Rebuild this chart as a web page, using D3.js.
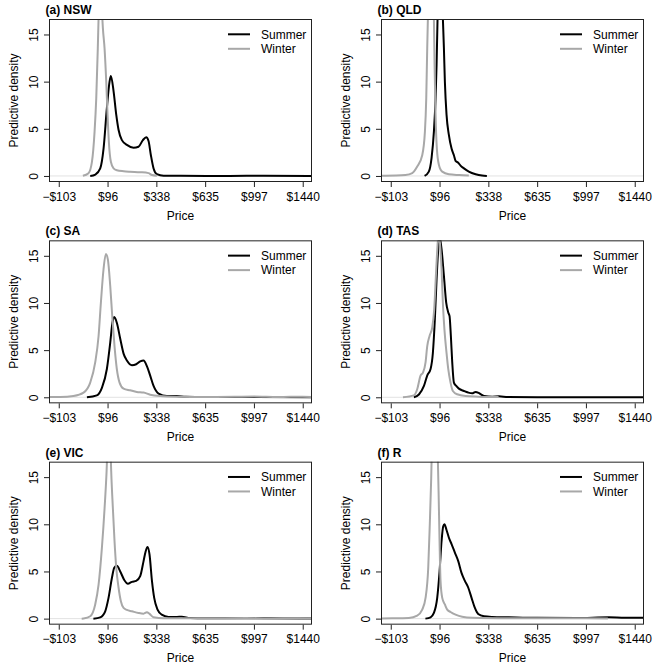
<!DOCTYPE html>
<html>
<head>
<meta charset="utf-8">
<script src="https://cdn.jsdelivr.net/npm/d3@7"></script>
<style>
  html, body { margin: 0; padding: 0; background: #fff; }
  svg { display: block; font-family: "Liberation Sans", Arial, Helvetica, sans-serif; }
</style>
</head>
<body>
<svg id="chart" width="664" height="664"></svg>
<script>
// ---- Data (x in transformed price-axis units: tick index 0..5) ----
const panelTitles = ["(a) NSW", "(b) QLD", "(c) SA", "(d) TAS", "(e) VIC", "(f) R"];
const xTickPos = [0, 1, 2, 3, 4, 5];
const xTickLabels = ["\u2212$103", "$96", "$338", "$635", "$997", "$1440"];
const yTicks = [0, 5, 10, 15];
const seriesNames = ["Summer", "Winter"];

const nswSummer = [[0.645,0],[0.75,0.15],[0.85,0.8],[0.918,2.9],[0.986,7.2],[1.041,10.0],[1.068,10.6],[1.123,9.0],[1.178,6.5],[1.225,4.9],[1.294,3.8],[1.396,3.3],[1.533,3.0],[1.635,3.1],[1.724,3.8],[1.792,4.1],[1.84,3.7],[1.888,2.2],[1.943,0.8],[2.011,0.2],[2.148,0.03],[2.5,0.01],[3.5,0],[4.2,0.02],[5.19,0]];
const nswWinter = [[0.494,0.03],[0.61,0.3],[0.68,1.5],[0.734,4.7],[0.768,8.2],[0.80,13.5],[0.82,17.5],[0.855,21],[0.89,17],[0.904,15.7],[0.939,13.5],[0.973,10],[1.0,6.5],[1.027,3.6],[1.068,1.5],[1.123,0.8],[1.19,0.6],[1.33,0.5],[1.46,0.45],[1.67,0.4],[1.84,0.3],[1.91,0.1],[2.01,0.03]];

const qldSummer = [[0.693,0],[0.78,0.46],[0.836,1.9],[0.884,4.7],[0.918,8.2],[0.939,11.8],[0.959,16.7],[0.985,22],[1.01,24],[1.04,21],[1.068,16.7],[1.089,13.6],[1.109,10],[1.143,6.5],[1.191,4.35],[1.246,2.9],[1.294,2.2],[1.328,1.6],[1.383,1.4],[1.43,1.1],[1.5,0.8],[1.6,0.46],[1.74,0.18],[1.87,0.04],[1.97,0]];
const qldWinter = [[-0.2,0.03],[0.1,0.05],[0.3,0.1],[0.44,0.3],[0.542,1.0],[0.645,2.2],[0.70,4.7],[0.727,8.2],[0.747,13.5],[0.761,16.7],[0.79,21],[0.82,23],[0.855,21],[0.884,16.7],[0.898,11.8],[0.918,6.5],[0.945,2.9],[0.986,1.2],[1.055,0.46],[1.19,0.18],[1.4,0.1],[1.6,0.05]];

const saSummer = [[0.577,0],[0.78,0.2],[0.884,1.0],[0.986,3.0],[1.055,5.8],[1.1,7.9],[1.137,8.5],[1.19,7.9],[1.26,6.2],[1.33,4.6],[1.396,3.9],[1.5,3.4],[1.587,3.5],[1.669,3.8],[1.738,3.9],[1.806,3.3],[1.874,2.3],[1.943,1.2],[2.045,0.4],[2.216,0.14],[2.42,0.14],[2.6,0.05],[3.0,0.02],[4.0,0.03],[5.19,0.01]];
const saWinter = [[-0.2,0.02],[0.03,0.03],[0.30,0.14],[0.508,0.5],[0.645,1.56],[0.747,3.7],[0.816,6.5],[0.863,10.0],[0.918,13.6],[0.966,15.2],[1.007,14.6],[1.055,11.8],[1.1,8.3],[1.143,5.4],[1.19,3.0],[1.246,1.56],[1.328,0.92],[1.464,0.74],[1.6,0.57],[1.738,0.5],[1.874,0.28],[2.08,0.14],[2.42,0.07],[3.0,0.04],[3.6,0.06],[4.0,0.08],[4.5,0.03],[5.0,0.07],[5.19,0.03]];

const tasSummer = [[0.474,0],[0.577,0.3],[0.68,1.2],[0.747,2.3],[0.816,3.0],[0.863,4.7],[0.904,8.3],[0.939,12.5],[0.973,15.7],[1.0,17],[1.041,15.7],[1.089,12.9],[1.137,10.0],[1.178,9.0],[1.205,8.6],[1.232,6.5],[1.26,3.7],[1.294,1.56],[1.342,1.2],[1.396,0.92],[1.5,0.67],[1.587,0.5],[1.669,0.42],[1.738,0.57],[1.82,0.4],[1.91,0.14],[2.08,0.07],[2.216,0.1],[2.4,0.02],[3.0,0],[5.19,0]];
const tasWinter = [[0.25,0],[0.474,0.2],[0.542,0.85],[0.61,2.3],[0.658,2.6],[0.713,3.7],[0.747,5.4],[0.795,6.5],[0.85,7.4],[0.89,9.3],[0.932,13.6],[0.966,16.6],[0.985,17.2],[1.007,16.4],[1.041,13.6],[1.068,10],[1.1,7.2],[1.143,4.7],[1.178,3.0],[1.225,1.56],[1.273,0.67],[1.362,0.32],[1.533,0.14],[1.8,0.07],[2.21,0.02]];

const vicSummer = [[0.71,0],[0.85,0.14],[0.952,0.78],[1.02,2.2],[1.089,4.3],[1.137,5.4],[1.19,5.6],[1.26,5.0],[1.342,4.1],[1.417,3.7],[1.5,3.9],[1.587,4.0],[1.669,4.5],[1.738,6.1],[1.779,7.1],[1.82,7.6],[1.86,6.8],[1.91,4.0],[1.956,2.2],[2.025,0.96],[2.11,0.42],[2.25,0.18],[2.42,0.18],[2.52,0.2],[2.69,0.07],[3.0,0.03],[4.0,0.03],[5.19,0.02]];
const vicWinter = [[0.47,0],[0.508,0.02],[0.645,0.25],[0.747,1.5],[0.816,3.6],[0.884,7.5],[0.939,11.7],[0.98,15.6],[1.005,19],[1.03,20],[1.055,19],[1.075,15.6],[1.109,11.7],[1.143,8.2],[1.178,5.4],[1.225,3.3],[1.273,1.84],[1.328,1.13],[1.396,0.92],[1.5,0.78],[1.635,0.6],[1.738,0.53],[1.806,0.67],[1.86,0.5],[1.943,0.14],[2.15,0.04],[3.0,0.03],[3.84,0.07],[4.3,0.02],[4.9,0.05],[5.19,0.02]];

const rSummer = [[0.71,0],[0.816,0.14],[0.884,0.6],[0.952,2.2],[1.0,5.0],[1.041,8.2],[1.075,9.8],[1.1,10.0],[1.143,9.4],[1.19,8.6],[1.246,7.9],[1.314,7.0],[1.383,6.1],[1.45,4.85],[1.519,4.0],[1.587,3.3],[1.656,2.2],[1.724,1.13],[1.792,0.5],[1.91,0.25],[2.08,0.18],[2.42,0.14],[3.0,0.08],[3.8,0.06],[4.47,0.15],[4.8,0.08],[5.19,0.1]];
const rWinter = [[-0.2,0.02],[0.027,0.03],[0.37,0.07],[0.542,0.32],[0.645,0.96],[0.713,2.2],[0.768,5.4],[0.80,10],[0.829,14.9],[0.86,22],[0.89,24],[0.93,22],[0.966,16.7],[0.98,13.5],[1.0,8.2],[1.02,4.0],[1.055,2.2],[1.109,1.5],[1.157,0.96],[1.225,0.7],[1.328,0.42],[1.464,0.2],[1.67,0.1],[2.5,0.05],[3.5,0.04],[4.45,0.02]];

const summerSeries = [nswSummer, qldSummer, saSummer, tasSummer, vicSummer, rSummer];
const winterSeries = [nswWinter, qldWinter, saWinter, tasWinter, vicWinter, rWinter];

// ---- Layout / style ----
const W = 664, H = 664;
const cols = 2, rows = 3;
const pw = W / cols, ph = H / rows;
const box = { left: 49, right: 312, top: 19, bottom: 182 };
const colors = { Summer: "#000000", Winter: "#a8a8a8" };
const font = 12;

const svg = d3.select("#chart");

panelTitles.forEach((title, i) => {
  const c = i % cols, r = Math.floor(i / cols);
  const g = svg.append("g").attr("transform", `translate(${c * pw},${r * ph})`);

  const x = d3.scaleLinear().domain([-0.2, 5.19]).range([box.left, box.right]);
  const y = d3.scaleLinear().domain([-0.64, 16.64]).range([box.bottom, box.top]);

  const clipId = "clip" + i;
  g.append("clipPath").attr("id", clipId)
    .append("rect")
    .attr("x", box.left).attr("y", box.top)
    .attr("width", box.right - box.left).attr("height", box.bottom - box.top);

  // light zero reference line
  g.append("line")
    .attr("x1", box.left).attr("x2", box.right)
    .attr("y1", y(0)).attr("y2", y(0))
    .attr("stroke", "#e2e2e2").attr("stroke-width", 1);

  const line = d3.line()
    .x(d => x(d[0])).y(d => y(d[1]))
    .curve(d3.curveMonotoneX);

  const plot = g.append("g").attr("clip-path", `url(#${clipId})`);
  plot.append("path").datum(summerSeries[i])
    .attr("d", line).attr("fill", "none")
    .attr("stroke", colors.Summer).attr("stroke-width", 2)
    .attr("stroke-linejoin", "round");
  plot.append("path").datum(winterSeries[i])
    .attr("d", line).attr("fill", "none")
    .attr("stroke", colors.Winter).attr("stroke-width", 2)
    .attr("stroke-linejoin", "round");

  // box
  g.append("rect")
    .attr("x", box.left + 0.5).attr("y", box.top + 0.5)
    .attr("width", box.right - box.left - 1).attr("height", box.bottom - box.top - 1)
    .attr("fill", "none").attr("stroke", "#222").attr("stroke-width", 1);

  // x axis
  const xAxis = d3.axisBottom(x)
    .tickValues(xTickPos)
    .tickFormat((d, k) => xTickLabels[k])
    .tickSize(5).tickSizeOuter(0).tickPadding(5);
  const gx = g.append("g").attr("transform", `translate(0,${box.bottom})`).call(xAxis);
  gx.select(".domain").remove();
  gx.selectAll("line").attr("stroke", "#222");
  gx.selectAll("text").attr("font-size", font).attr("fill", "#000")
    .attr("font-family", "Liberation Sans, Arial, sans-serif");

  // y axis
  const yAxis = d3.axisLeft(y).tickValues(yTicks).tickSize(5).tickSizeOuter(0);
  const gy = g.append("g").attr("transform", `translate(${box.left},0)`).call(yAxis);
  gy.select(".domain").remove();
  gy.selectAll("line").attr("stroke", "#222");
  gy.selectAll("text")
    .attr("x", 0).attr("dy", 0)
    .attr("text-anchor", "middle")
    .attr("transform", "translate(-11.5,0) rotate(-90)")
    .attr("font-size", font).attr("fill", "#000")
    .attr("font-family", "Liberation Sans, Arial, sans-serif");

  // axis titles
  g.append("text")
    .attr("x", (box.left + box.right) / 2).attr("y", 219.5)
    .attr("text-anchor", "middle").attr("font-size", font)
    .text("Price");
  g.append("text")
    .attr("transform", `translate(18.3,${(box.top + box.bottom) / 2}) rotate(-90)`)
    .attr("text-anchor", "middle").attr("font-size", font)
    .text("Predictive density");

  // panel title
  g.append("text")
    .attr("x", 45.5).attr("y", 14)
    .attr("font-size", font).attr("font-weight", "bold")
    .text(title);

  // legend
  seriesNames.forEach((name, k) => {
    const ly = 34.3 + k * 14.5;
    g.append("line")
      .attr("x1", 228).attr("x2", 250).attr("y1", ly).attr("y2", ly)
      .attr("stroke", colors[name]).attr("stroke-width", 2);
    g.append("text")
      .attr("x", 261).attr("y", ly + 4.3)
      .attr("font-size", font)
      .text(name);
  });
});
</script>
</body>
</html>
